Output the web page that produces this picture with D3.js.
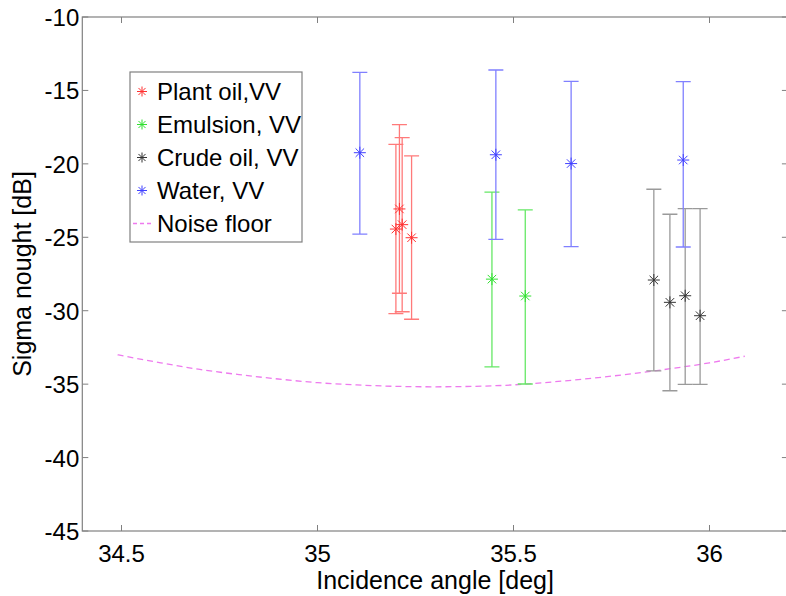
<!DOCTYPE html>
<html>
<head>
<meta charset="utf-8">
<script src="https://cdn.jsdelivr.net/npm/d3@7"></script>
<style>
  body {margin: 0; background: #fff;}
  svg text {font-family: "Liberation Sans", Arial, Helvetica, sans-serif; fill: #000;}
</style>
</head>
<body>
<div id="chart"></div>
<script>
//-- Data
var x_ticks = [34.5, 35, 35.5, 36];
var y_ticks = [-45, -40, -35, -30, -25, -20, -15, -10];

var plant_x  = [35.200, 35.209, 35.216, 35.240];
var plant_y  = [-24.44, -23.07, -24.14, -25.03];
var plant_lo = [-30.20, -28.81, -30.07, -30.58];
var plant_hi = [-18.67, -17.33, -18.22, -19.46];

var emulsion_x  = [35.445, 35.530];
var emulsion_y  = [-27.85, -29.00];
var emulsion_lo = [-33.83, -34.99];
var emulsion_hi = [-21.92, -23.14];

var crude_x  = [35.858, 35.899, 35.938, 35.976];
var crude_y  = [-27.91, -29.43, -28.98, -30.34];
var crude_lo = [-34.10, -35.45, -35.01, -35.01];
var crude_hi = [-21.73, -23.43, -23.05, -23.05];

var water_x  = [35.108, 35.455, 35.647, 35.933];
var water_y  = [-19.24, -19.38, -19.98, -19.74];
var water_lo = [-24.79, -25.14, -25.64, -25.66];
var water_hi = [-13.77, -13.61, -14.38, -14.40];

var noise_x = [34.49, 34.6, 34.7, 34.8, 34.9, 35.0, 35.1, 35.2, 35.3, 35.4, 35.5, 35.6, 35.7, 35.8, 35.9, 36.0, 36.09];
var noise_y = [-33.0, -33.55, -34.0, -34.35, -34.65, -34.9, -35.05, -35.15, -35.18, -35.15, -35.05, -34.85, -34.6, -34.3, -33.95, -33.55, -33.1];

var legend_label = ['Plant oil,VV', 'Emulsion, VV', 'Crude oil, VV', 'Water, VV', 'Noise floor'];

function Make_Canvas(wrap) {
  wrap.tot_width = 786;
  wrap.tot_height = 596;
  wrap.svg = d3.select(wrap.id)
    .append("svg")
      .attr("width", wrap.tot_width)
      .attr("height", wrap.tot_height);

  wrap.svg.append("rect")
    .attr("width", "100%")
    .attr("height", "100%")
    .attr("fill", "white");

  wrap.x = d3.scaleLinear().domain([34.4, 36.2]).range([82.3, 787.9]);
  wrap.y = d3.scaleLinear().domain([-45, -10]).range([531, 17]);
}

function Make_Series() {
  return [
    {x: plant_x, y: plant_y, lo: plant_lo, hi: plant_hi, bar: '#ff7a7a', mark: '#ff3030'},
    {x: emulsion_x, y: emulsion_y, lo: emulsion_lo, hi: emulsion_hi, bar: '#66e866', mark: '#30e030'},
    {x: crude_x, y: crude_y, lo: crude_lo, hi: crude_hi, bar: '#9a9a9a', mark: '#333333'},
    {x: water_x, y: water_y, lo: water_lo, hi: water_hi, bar: '#8080ff', mark: '#4040ff'}
  ];
}

//-- Asterisk marker like Matlab's '*'
function Star_Path(cx, cy, r) {
  var d = 0.7071 * r;
  return "M" + (cx - r) + "," + cy + "H" + (cx + r) +
    "M" + cx + "," + (cy - r) + "V" + (cy + r) +
    "M" + (cx - d) + "," + (cy - d) + "L" + (cx + d) + "," + (cy + d) +
    "M" + (cx - d) + "," + (cy + d) + "L" + (cx + d) + "," + (cy - d);
}

function Draw_Axes(wrap) {
  var x = wrap.x, y = wrap.y;
  var x0 = x.range()[0], x1 = x.range()[1];
  var y0 = y.range()[0], y1 = y.range()[1];
  var tick_len = 6;

  //-- Frame
  wrap.svg.append("rect")
    .attr("x", x0)
    .attr("y", y1)
    .attr("width", x1 - x0)
    .attr("height", y0 - y1)
    .attr("fill", "none")
    .attr("stroke", "#808080")
    .attr("stroke-width", 1.2);

  //-- Inward ticks, x
  var g = wrap.svg.append("g").attr("class", "ticks")
    .attr("stroke", "#808080").attr("stroke-width", 1);
  x_ticks.forEach(function (t) {
    g.append("line").attr("x1", x(t)).attr("x2", x(t)).attr("y1", y0).attr("y2", y0 - tick_len);
    g.append("line").attr("x1", x(t)).attr("x2", x(t)).attr("y1", y1).attr("y2", y1 + tick_len);
  });
  y_ticks.forEach(function (t) {
    g.append("line").attr("x1", x0).attr("x2", x0 + tick_len).attr("y1", y(t)).attr("y2", y(t));
    g.append("line").attr("x1", x1).attr("x2", x1 - tick_len).attr("y1", y(t)).attr("y2", y(t));
  });

  //-- Tick labels
  wrap.svg.selectAll(".xtick")
    .data(x_ticks)
    .enter()
    .append("text")
      .attr("class", "xtick")
      .attr("x", function (d) {return x(d);})
      .attr("y", y0 + 31)
      .attr("text-anchor", "middle")
      .style("font-size", "24px")
      .text(function (d) {return d;});

  wrap.svg.selectAll(".ytick")
    .data(y_ticks)
    .enter()
    .append("text")
      .attr("class", "ytick")
      .attr("x", x0 - 3)
      .attr("y", function (d) {return y(d) + 9;})
      .attr("text-anchor", "end")
      .style("font-size", "24px")
      .text(function (d) {return d;});

  //-- Axis labels
  wrap.svg.append("text")
    .attr("x", (x0 + x1) / 2)
    .attr("y", 589)
    .attr("text-anchor", "middle")
    .style("font-size", "25px")
    .text("Incidence angle [deg]");

  wrap.svg.append("text")
    .attr("transform", "translate(31," + ((y0 + y1) / 2) + ") rotate(-90)")
    .attr("text-anchor", "middle")
    .style("font-size", "25px")
    .text("Sigma nought [dB]");
}

function Draw_Data(wrap, series) {
  var x = wrap.x, y = wrap.y;
  var cap = 7.5;

  //-- Noise floor
  var line = d3.line()
    .x(function (d, i) {return x(noise_x[i]);})
    .y(function (d) {return y(d);})
    .curve(d3.curveMonotoneX);

  wrap.svg.append("path")
    .attr("d", line(noise_y))
    .attr("fill", "none")
    .attr("stroke", "#ee7aee")
    .attr("stroke-width", 1.3)
    .attr("stroke-dasharray", "6,4");

  series.forEach(function (s) {
    var g = wrap.svg.append("g")
      .attr("stroke", s.bar)
      .attr("stroke-width", 1.3)
      .attr("fill", "none");

    //-- Error bars
    g.selectAll(".bar")
      .data(s.x)
      .enter()
      .append("path")
        .attr("d", function (d, i) {
          var xx = x(d), ylo = y(s.lo[i]), yhi = y(s.hi[i]);
          return "M" + xx + "," + ylo + "V" + yhi +
            "M" + (xx - cap) + "," + yhi + "H" + (xx + cap) +
            "M" + (xx - cap) + "," + ylo + "H" + (xx + cap);
        });

    //-- Markers
    g.selectAll(".mark")
      .data(s.x)
      .enter()
      .append("path")
        .attr("d", function (d, i) {return Star_Path(x(d), y(s.y[i]), 6);})
        .attr("stroke", s.mark)
        .attr("stroke-width", 1);
  });
}

function Draw_Legend(wrap, series) {
  var box = {x: 130, y: 72, w: 172, h: 170};
  var row0 = 91.5, dy = 33;

  wrap.svg.append("rect")
    .attr("x", box.x)
    .attr("y", box.y)
    .attr("width", box.w)
    .attr("height", box.h)
    .attr("fill", "white")
    .attr("stroke", "#808080")
    .attr("stroke-width", 1.2);

  series.forEach(function (s, i) {
    wrap.svg.append("path")
      .attr("d", Star_Path(142, row0 + i * dy, 5))
      .attr("stroke", s.mark)
      .attr("stroke-width", 1)
      .attr("fill", "none");
  });

  wrap.svg.append("line")
    .attr("x1", 133).attr("x2", 153)
    .attr("y1", row0 + 4 * dy).attr("y2", row0 + 4 * dy)
    .attr("stroke", "#ee7aee")
    .attr("stroke-width", 1.3)
    .attr("stroke-dasharray", "4,3");

  wrap.svg.selectAll(".legend.label")
    .data(legend_label)
    .enter()
    .append("text")
      .attr("class", "legend label")
      .attr("x", 157)
      .attr("y", function (d, i) {return row0 + i * dy + 8.5;})
      .style("font-size", "24px")
      .text(function (d) {return d;});
}

var wrap = {id: "#chart"};
Make_Canvas(wrap);
var series = Make_Series();
Draw_Axes(wrap);
Draw_Data(wrap, series);
Draw_Legend(wrap, series);
</script>
</body>
</html>
